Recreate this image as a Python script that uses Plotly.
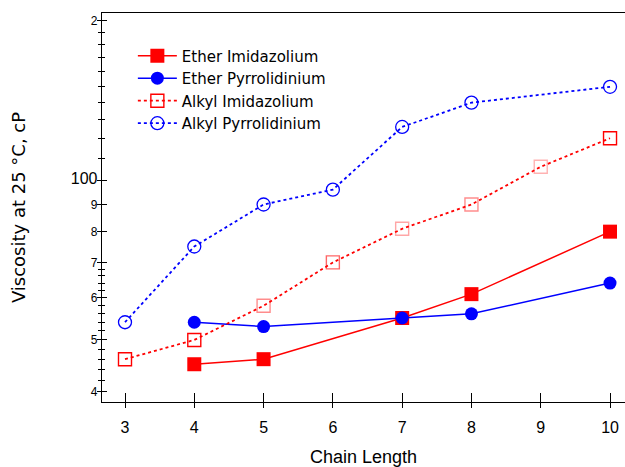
import math
import plotly.graph_objects as go

# Viscosity (cP, 25 °C) versus alkyl/ether chain length
ether_imid_x = [4, 5, 7, 8, 10]
ether_imid_y = [45, 46, 55, 61, 80]

ether_pyrr_x = [4, 5, 7, 8, 10]
ether_pyrr_y = [54, 53, 55, 56, 64]

alkyl_imid_x = [3, 4, 5, 6, 7, 8, 9, 10]
alkyl_imid_y = [46, 50, 58, 70, 81, 90, 106, 120]

alkyl_pyrr_x = [3, 4, 5, 6, 7, 8, 10]
alkyl_pyrr_y = [54, 75, 90, 96, 126, 140, 150]

x_ticks = [3, 4, 5, 6, 7, 8, 9, 10]
y_major = [40, 50, 60, 70, 80, 90, 100, 200]
y_major_text = ["4", "5", "6", "7", "8", "9", "100", "2"]
y_minor = [42, 44, 46, 48, 52, 54, 56, 58, 62, 64, 66, 68,
           110, 120, 130, 140, 150, 160, 170, 180, 190]

RED = "#ff0000"
BLUE = "#0000ff"
FONT = "Liberation Sans, Arial, sans-serif"
WIDE_FONT = "DejaVu Sans, Verdana, sans-serif"

# outline shades for the hollow imidazolium squares
alkyl_imid_shade = ["rgba(255,0,0,1)", "rgba(255,0,0,1)", "rgba(255,0,0,0.45)",
                    "rgba(255,0,0,0.6)", "rgba(255,0,0,0.35)", "rgba(255,0,0,0.45)",
                    "rgba(255,0,0,0.3)", "rgba(255,0,0,1)"]

fig = go.Figure()

fig.add_trace(go.Scatter(
    x=ether_imid_x, y=ether_imid_y, name="Ether Imidazolium",
    mode="lines+markers",
    line=dict(color=RED, width=1.5),
    marker=dict(symbol="square", size=14, color=RED),
))
fig.add_trace(go.Scatter(
    x=ether_pyrr_x, y=ether_pyrr_y, name="Ether Pyrrolidinium",
    mode="lines+markers",
    line=dict(color=BLUE, width=1.5),
    marker=dict(symbol="circle", size=13, color=BLUE),
))
fig.add_trace(go.Scatter(
    x=alkyl_imid_x, y=alkyl_imid_y, name="Alkyl Imidazolium",
    mode="lines+markers",
    line=dict(color=RED, width=1.8, dash="dot"),
    marker=dict(symbol="square-open", size=13, color=alkyl_imid_shade,
                line=dict(width=1.4)),
))
fig.add_trace(go.Scatter(
    x=alkyl_pyrr_x, y=alkyl_pyrr_y, name="Alkyl Pyrrolidinium",
    mode="lines+markers",
    line=dict(color=BLUE, width=1.8, dash="dot"),
    marker=dict(symbol="circle-open", size=13, color=BLUE, line=dict(width=1.3)),
))

# empty trace that carries the inner tick marks of the overlay axes
fig.add_trace(go.Scatter(x=[None], y=[None], xaxis="x2", yaxis="y2",
                         showlegend=False, hoverinfo="skip"))

x_range = [2.668, 10.216]
y_range = [math.log10(38.2), math.log10(206.6)]

y_text = [f'<span style="font-size:16px">{t}</span>' if t == "100" else t
          for t in y_major_text]

fig.update_layout(
    width=625, height=467,
    margin=dict(l=102, r=0, t=13, b=65),
    paper_bgcolor="white", plot_bgcolor="white",
    font=dict(family=FONT, color="black"),
    showlegend=True,
    legend=dict(
        x=0.059, y=0.932, xanchor="left", yanchor="top",
        bgcolor="rgba(0,0,0,0)", borderwidth=0,
        font=dict(size=15, family=WIDE_FONT), itemwidth=39,
        tracegroupgap=0,
    ),
    xaxis=dict(
        range=x_range, tickmode="array", tickvals=x_ticks,
        ticks="outside", ticklen=5, tickwidth=1.2, tickcolor="black",
        showline=True, linecolor="black", linewidth=1.3, mirror=True,
        showgrid=False, zeroline=False,
        tickfont=dict(size=16), ticklabelstandoff=6,
        title=dict(text="Chain Length", font=dict(size=18), standoff=16),
    ),
    xaxis2=dict(
        overlaying="x", matches="x", side="bottom", range=x_range,
        tickmode="array", tickvals=x_ticks, ticks="inside", ticklen=9,
        tickwidth=1.2, tickcolor="black", showticklabels=False,
        showline=False, showgrid=False, zeroline=False,
    ),
    yaxis=dict(
        type="log", range=y_range, tickmode="array",
        tickvals=y_major, ticktext=y_text,
        ticks="outside", ticklen=4, tickwidth=1.2, tickcolor="black",
        minor=dict(tickmode="array", tickvals=y_minor, ticks="outside",
                   ticklen=3, tickwidth=1, tickcolor="black", showgrid=False),
        showline=True, linecolor="black", linewidth=1.3,
        showgrid=False, zeroline=False,
        tickfont=dict(size=12), ticklabelstandoff=-3,
        title=dict(text="Viscosity at 25 °C, cP",
                   font=dict(size=18, family=WIDE_FONT), standoff=40),
    ),
    yaxis2=dict(
        overlaying="y", matches="y", side="left", type="log", range=y_range,
        tickmode="array", tickvals=y_major, ticks="inside", ticklen=5,
        tickwidth=1.2, tickcolor="black", showticklabels=False,
        minor=dict(tickmode="array", tickvals=y_minor, ticks="inside",
                   ticklen=3, tickwidth=1, tickcolor="black", showgrid=False),
        showline=False, showgrid=False, zeroline=False,
    ),
)

fig.write_html("out.html")
